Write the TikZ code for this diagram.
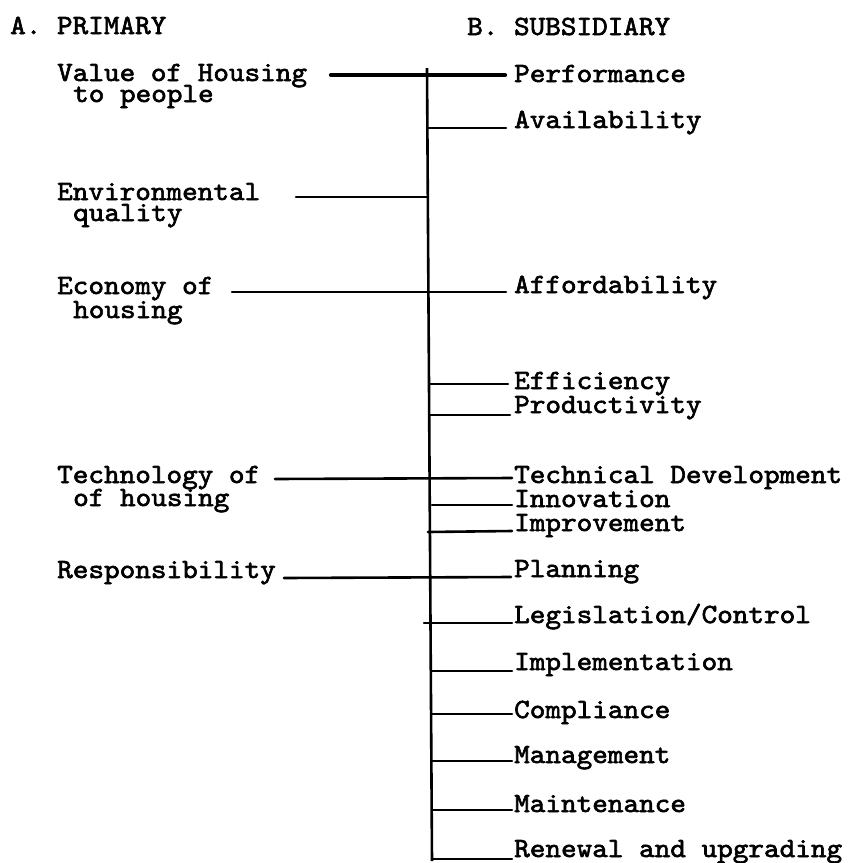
\documentclass[tikz,border=0pt]{standalone}
\usepackage{fontspec}
\newfontfamily\tw{lmmono10-regular}[Extension=.otf,FakeStretch=1.07,FakeBold=2.2]
\begin{document}
\begin{tikzpicture}[x=1pt,y=-1pt,
  lbl/.style={anchor=base west,inner sep=0pt,font=\tw\fontsize{27.8}{20}\selectfont},
  br/.style={line width=2.6pt,line cap=round},
  brthick/.style={line width=4.2pt,line cap=round},
  trunk/.style={line width=2.6pt}]
\useasboundingbox (0,0) rectangle (847,863);
% headings
\node[lbl] (hA) at (10,34) {A. PRIMARY};
\node[lbl] (hB) at (467,35) {B. SUBSIDIARY};
% primary labels
\node[lbl] (valA) at (57,81) {Value of Housing};
\node[lbl] (valB) at (73,102) {to people};
\node[lbl] (envA) at (57,200) {Environmental};
\node[lbl] (envB) at (73,221) {quality};
\node[lbl] (ecoA) at (57,294) {Economy of};
\node[lbl] (ecoB) at (73,318) {housing};
\node[lbl] (tecA) at (57,483) {Technology of};
\node[lbl] (tecB) at (73,506) {of housing};
\node[lbl] (resp) at (57,578) {Responsibility};
% subsidiary labels
\node[lbl] (perf) at (514,82) {Performance};
\node[lbl] (avail) at (514,128) {Availability};
\node[lbl] (afford) at (514,293) {Affordability};
\node[lbl] (effic) at (514,389) {Efficiency};
\node[lbl] (produ) at (514,413) {Productivity};
\node[lbl] (techd) at (514,483) {Technical Development};
\node[lbl] (innov) at (514,507) {Innovation};
\node[lbl] (impro) at (514,531) {Improvement};
\node[lbl] (plan) at (514,577) {Planning};
\node[lbl] (legis) at (514,623) {Legislation/Control};
\node[lbl] (imple) at (514,670) {Implementation};
\node[lbl] (compl) at (514,718) {Compliance};
\node[lbl] (manag) at (514,763) {Management};
\node[lbl] (maint) at (514,812) {Maintenance};
\node[lbl] (renew) at (514,857) {Renewal and upgrading};
% trunk
\coordinate (ttop) at (427,68);
\coordinate (tbot) at (432,861);
\draw[trunk] (ttop) -- (tbot);
% line end points
\coordinate (v1) at (331,75);   \coordinate (v2) at (505,75);
\coordinate (a1) at (427,128);  \coordinate (a2) at (506,128);
\coordinate (e1) at (296,197);  \coordinate (e2) at (428,197);
\coordinate (c1) at (232,292);  \coordinate (c2) at (506,292);
\coordinate (f1) at (430,384);  \coordinate (f2) at (508,384);
\coordinate (p1) at (430,415);  \coordinate (p2) at (510,415);
\coordinate (t1) at (275,479);  \coordinate (t2) at (512,478);
\coordinate (n1) at (432,505);  \coordinate (n2) at (512,505);
\coordinate (m1) at (428,532);  \coordinate (m2) at (512,531);
\coordinate (r1) at (284,578);  \coordinate (r2) at (511,577);
\coordinate (g1) at (424,623);  \coordinate (g2) at (512,623);
\coordinate (i1) at (432,671);  \coordinate (i2) at (512,671);
\coordinate (o1) at (432,714);  \coordinate (o2) at (512,714);
\coordinate (k1) at (432,761);  \coordinate (k2) at (512,761);
\coordinate (x1) at (432,810);  \coordinate (x2) at (512,810);
\coordinate (w1) at (432,859);  \coordinate (w2) at (512,859);
\draw[brthick] (v1) -- (v2);
\draw[br] (a1) -- (a2);
\draw[br] (e1) -- (e2);
\draw[br] (c1) -- (c2);
\draw[br] (f1) -- (f2);
\draw[br] (p1) -- (p2);
\draw[br] (t1) -- (t2);
\draw[br] (n1) -- (n2);
\draw[br] (m1) -- (m2);
\draw[br] (r1) -- (r2);
\draw[br] (g1) -- (g2);
\draw[br] (i1) -- (i2);
\draw[br] (o1) -- (o2);
\draw[br] (k1) -- (k2);
\draw[br] (x1) -- (x2);
\draw[br] (w1) -- (w2);
\end{tikzpicture}
\end{document}
